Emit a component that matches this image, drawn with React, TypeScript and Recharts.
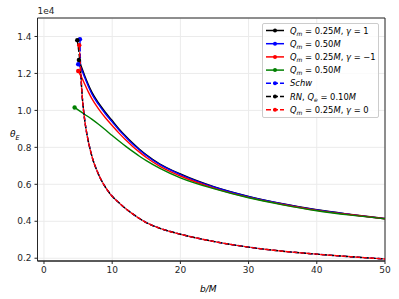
import React from "react";
import { LineChart, Line, XAxis, YAxis, CartesianGrid, ReferenceArea, Legend } from "recharts";

const xTicks = [0, 10, 20, 30, 40, 50];
const yTicks = [0.2, 0.4, 0.6, 0.8, 1.0, 1.2, 1.4];

// upper branch, solid lines (theta_E in units of 1e4)
const bBlackSolid = [5.12, 5.5, 6, 6.5, 7, 8, 9, 10, 11, 12, 13, 14, 15, 17, 20, 25, 30, 35, 40, 45, 50];
const thBlackSolid = [1.273, 1.235, 1.185, 1.14, 1.1, 1.04, 0.99, 0.945, 0.9, 0.86, 0.823, 0.79, 0.76, 0.71, 0.656, 0.586, 0.535, 0.495, 0.462, 0.437, 0.415];

const bBlueSolid = [5.02, 5.5, 6, 6.5, 7, 8, 9, 10, 11, 12, 13, 14, 15, 17, 20, 25, 30, 35, 40, 45, 50];
const thBlueSolid = [1.25, 1.222, 1.175, 1.131, 1.091, 1.032, 0.982, 0.938, 0.894, 0.855, 0.818, 0.786, 0.756, 0.706, 0.653, 0.584, 0.533, 0.494, 0.461, 0.436, 0.414];

const bRedSolid = [5.02, 5.5, 6, 6.5, 7, 8, 9, 10, 11, 12, 13, 14, 15, 17, 20, 25, 30, 35, 40, 45, 50];
const thRedSolid = [1.213, 1.18, 1.14, 1.1, 1.065, 1.008, 0.96, 0.918, 0.877, 0.84, 0.805, 0.774, 0.745, 0.697, 0.645, 0.578, 0.529, 0.491, 0.459, 0.435, 0.414];

const bGreen = [4.49, 5, 6, 7, 8, 9, 10, 11, 12, 13, 14, 15, 17, 20, 25, 30, 35, 40, 45, 50];
const thGreen = [1.016, 1.003, 0.978, 0.953, 0.925, 0.895, 0.864, 0.834, 0.805, 0.778, 0.752, 0.728, 0.686, 0.635, 0.575, 0.527, 0.489, 0.457, 0.433, 0.413];

// lower branch, dashed lines (they lie on top of each other)
const bLower = [5.4, 5.6, 5.8, 6, 6.3, 6.7, 7.2, 7.7, 8.3, 9, 10, 11, 12, 13, 14, 15, 17, 20, 25, 30, 35, 40, 45, 50];
const thLower = [1.2, 1.08, 1.0, 0.94, 0.87, 0.8, 0.73, 0.68, 0.63, 0.585, 0.535, 0.5, 0.468, 0.44, 0.415, 0.393, 0.362, 0.33, 0.29, 0.26, 0.238, 0.222, 0.208, 0.196];

const schwStart = { b: 5.27, theta: 1.385 };
const rnStart = { b: 4.88, theta: 1.38 };
const gammaZeroStart = { b: 5.17, theta: 1.353 };

const toRows = (b: number[], th: number[]) => b.map((v, i) => ({ b: v, theta: th[i] }));
const lowerRows = toRows(bLower, thLower);

type Part = [string, "" | "i" | "sub"];

const series: { key: string; color: string; dashed: boolean; data: { b: number; theta: number }[]; label: Part[] }[] = [
  {
    key: "qm025g1", color: "#000000", dashed: false, data: toRows(bBlackSolid, thBlackSolid),
    label: [["Q", "i"], ["m", "sub"], [" = 0.25", ""], ["M", "i"], [", ", ""], ["γ", "i"], [" = 1", ""]],
  },
  {
    key: "qm050", color: "#0000ff", dashed: false, data: toRows(bBlueSolid, thBlueSolid),
    label: [["Q", "i"], ["m", "sub"], [" = 0.50", ""], ["M", "i"]],
  },
  {
    key: "qm025gm1", color: "#ff0000", dashed: false, data: toRows(bRedSolid, thRedSolid),
    label: [["Q", "i"], ["m", "sub"], [" = 0.25", ""], ["M", "i"], [", ", ""], ["γ", "i"], [" = −1", ""]],
  },
  {
    key: "qm050g", color: "#008000", dashed: false, data: toRows(bGreen, thGreen),
    label: [["Q", "i"], ["m", "sub"], [" = 0.50", ""], ["M", "i"]],
  },
  {
    key: "schw", color: "#0000ff", dashed: true, data: [schwStart, ...lowerRows],
    label: [["Schw", "i"]],
  },
  {
    key: "rn", color: "#000000", dashed: true, data: [rnStart, ...lowerRows],
    label: [["RN", "i"], [", ", ""], ["Q", "i"], ["e", "sub"], [" = 0.10", ""], ["M", "i"]],
  },
  {
    key: "qm025g0", color: "#ff0000", dashed: true, data: [gammaZeroStart, ...lowerRows],
    label: [["Q", "i"], ["m", "sub"], [" = 0.25", ""], ["M", "i"], [", ", ""], ["γ", "i"], [" = 0", ""]],
  },
];

const renderParts = (parts: Part[]) => {
  let inSub = false;
  return parts.map(([t, kind], i) => {
    let dy = 0;
    if (kind === "sub" && !inSub) { dy = 2.3; inSub = true; }
    else if (kind !== "sub" && inSub) { dy = -2.3; inSub = false; }
    return (
      <tspan key={i} dy={dy} fontStyle={kind === "" ? "normal" : "italic"} fontSize={kind === "sub" ? 6 : 8.4}>
        {t}
      </tspan>
    );
  });
};

const LegendBox = () => (
  <div style={{ width: 117, height: 95, background: "rgba(255,255,255,0.8)", border: "1px solid #cccccc", borderRadius: 2, boxSizing: "border-box" }}>
    <svg width={115} height={93} style={{ display: "block" }}>
      {series.map((s, i) => {
        const y = 6.5 + i * 13.2;
        return (
          <g key={s.key}>
            <line x1={3} x2={21} y1={y} y2={y} stroke={s.color} strokeWidth={1.5} strokeDasharray={s.dashed ? "5 2" : undefined} />
            <circle cx={12} cy={y} r={2} fill={s.color} />
            <text x={27} y={y + 3} fontSize={8.4} fill="#000" style={{ whiteSpace: "pre" }}>
              {renderParts(s.label)}
            </text>
          </g>
        );
      })}
    </svg>
  </div>
);

const startDot = (color: string) => (props: any) =>
  props.index === 0 ? (
    <circle key={`dot-${props.index}`} cx={props.cx} cy={props.cy} r={2.2} fill={color} stroke="none" />
  ) : (
    <g key={`dot-${props.index}`} />
  );

export default function App() {
  return (
    <div style={{ position: "absolute", left: 0, top: 0, background: "#fff", fontFamily: "DejaVu Sans" }}>
      <LineChart width={399} height={299} margin={{ top: 18, right: 14, bottom: 8, left: 0 }}>
        <CartesianGrid stroke="#ebebeb" strokeWidth={1} />
        <XAxis
          type="number"
          dataKey="b"
          domain={[-0.95, 50]}
          ticks={xTicks}
          allowDataOverflow
          height={30}
          tickSize={3}
          tickMargin={3}
          stroke="#262626"
          tick={{ fontSize: 9, fill: "#262626" }}
          label={(p: any) => {
            const vb = p.viewBox;
            return (
              <text x={vb.x + vb.width / 2 - 3} y={vb.y + 31} textAnchor="middle" fontSize={9} fontStyle="italic" fill="#000">
                b/M
              </text>
            );
          }}
        />
        <YAxis
          type="number"
          domain={[0.185, 1.5]}
          ticks={yTicks}
          allowDataOverflow
          width={37.5}
          tickSize={3}
          tickMargin={3}
          stroke="#262626"
          tick={{ fontSize: 9, fill: "#262626" }}
          tickFormatter={(v: number) => v.toFixed(1)}
          label={(p: any) => {
            const vb = p.viewBox;
            return (
              <g>
                <text x={vb.x + vb.width} y={vb.y - 4} fontSize={9} fill="#262626">1e4</text>
                <text x={10} y={137} fontSize={9} fontStyle="italic" fill="#000">
                  θ<tspan dy={2.5} fontSize={6.5}>E</tspan>
                </text>
              </g>
            );
          }}
        />
        <ReferenceArea x1={-0.95} x2={50} y1={0.185} y2={1.5} fill="none" stroke="#262626" strokeWidth={1} />
        {series.map((s) => (
          <Line
            key={s.key}
            data={s.data}
            dataKey="theta"
            type="monotone"
            stroke={s.color}
            strokeWidth={1.4}
            strokeDasharray={s.dashed ? "5 2" : undefined}
            dot={startDot(s.color)}
            activeDot={false}
            isAnimationActive={false}
          />
        ))}
        <Legend
          layout="vertical"
          align="center"
          verticalAlign="middle"
          wrapperStyle={{ left: 262, top: 23 }}
          content={() => <LegendBox />}
        />
      </LineChart>
    </div>
  );
}
